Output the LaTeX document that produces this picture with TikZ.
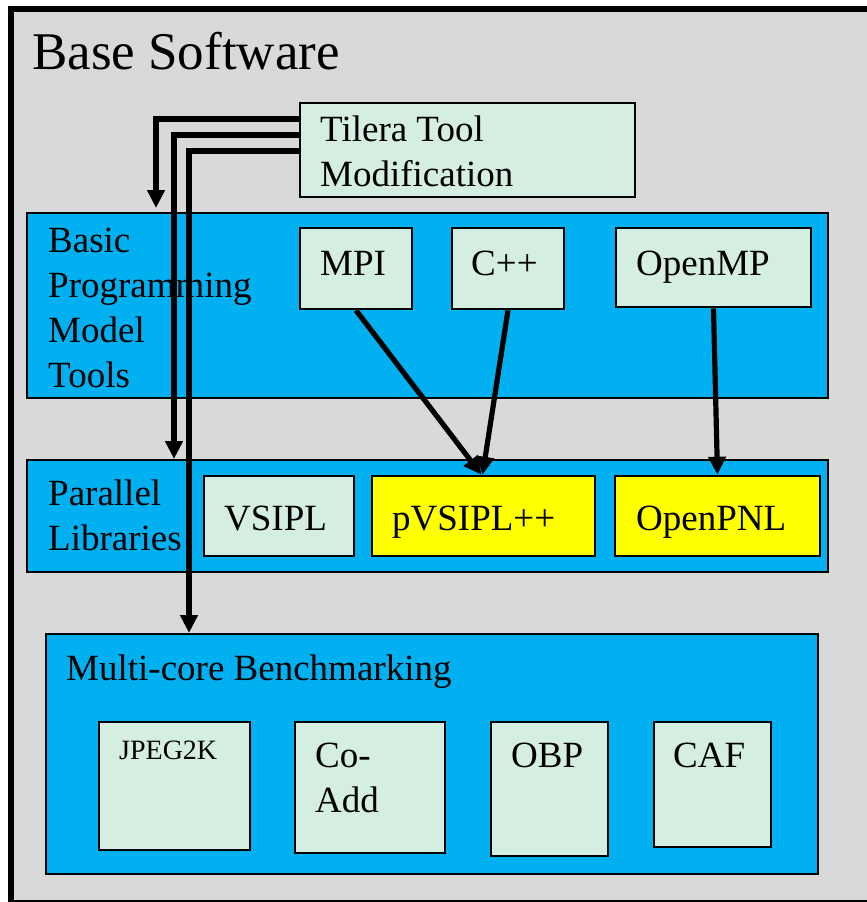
\documentclass[tikz,border=0pt]{standalone}
\usepackage{fontspec}
\setmainfont{Liberation Serif}
\usetikzlibrary{arrows.meta,fit}
\definecolor{panelgray}{HTML}{D9D9D9}
\definecolor{groupblue}{HTML}{00B0F0}
\definecolor{itemmint}{HTML}{D4EEE1}
\definecolor{hilite}{HTML}{FFFF00}
\begin{document}
\begin{tikzpicture}[x=1pt,y=-1pt,
  group/.style={draw=black, line width=2pt, fill=groupblue, inner sep=0pt},
  item/.style={draw=black, line width=2.6pt, fill=itemmint, inner sep=0pt},
  itemhi/.style={item, fill=hilite},
  % multi-line labels sit on the baseline of their last line
  txt/.style={font=\fontsize{37}{45}\selectfont, inner sep=0pt, anchor=base west, align=left},
  smalltxt/.style={txt, font=\fontsize{28}{34}\selectfont},
  arr/.style={line width=5.2pt, -{Triangle[length=18pt,width=17pt]}}]
\useasboundingbox (0,0) rectangle (867,902);

% outer panel
\fill[panelgray] (11,9) rectangle (880,903);
\draw[line width=6pt] (880,9) -- (11,9) -- (11,903) -- (880,903);
\node[anchor=base west, inner sep=0pt, font=\fontsize{53}{60}\selectfont] (title) at (32,69) {Base Software};

% tool box
\node[item, fit={(300,103) (635,197)}] (til) {};
\node[txt] (tilT) at (320,186) {Tilera Tool\\Modification};

% basic programming model tools
\node[group, fit={(27,213) (828,398)}] (bpm) {};
\node[txt] (bpmT) at (48,387) {Basic\\Programming\\Model\\Tools};
\node[item, fit={(300,228) (412,309)}] (mpi) {};
\node[txt] (mpiT) at (320,275) {MPI};
\node[item, fit={(452,228) (564,309)}] (cpp) {};
\node[txt] (cppT) at (471,275) {C++};
\node[item, fit={(616,228) (811,307)}] (omp) {};
\node[txt] (ompT) at (636,275) {OpenMP};

% parallel libraries
\node[group, fit={(27,460) (828,572)}] (par) {};
\node[txt] (parT) at (48,550) {Parallel\\Libraries};
\node[item, fit={(204,476) (354,556)}] (vsipl) {};
\node[txt] (vsiplT) at (224,530) {VSIPL};
\node[itemhi, fit={(372,476) (595,556)}] (pv) {};
\node[txt] (pvT) at (392,530) {pVSIPL++};
\node[itemhi, fit={(615,476) (820,556)}] (pnl) {};
\node[txt] (pnlT) at (636,530) {OpenPNL};

% benchmarking
\node[group, fit={(46,634) (818,874)}] (mcb) {};
\node[txt] (mcbT) at (66,680) {Multi-core Benchmarking};
\node[item, fit={(99,722) (250,850)}] (jpeg) {};
\node[smalltxt] (jpegT) at (119,759) {JPEG2K};
\node[item, fit={(295,722) (445,853)}] (coadd) {};
\node[txt] (coaddT) at (315,812) {Co-\\Add};
\node[item, fit={(491,722) (608,856)}] (obp) {};
\node[txt] (obpT) at (511,767) {OBP};
\node[item, fit={(654,722) (771,847)}] (caf) {};
\node[txt] (cafT) at (673,767) {CAF};

% connectors
\draw[arr] ([yshift=31pt]til.west) -| ([xshift=130pt,yshift=4pt]bpm.north west);
\draw[arr] ([yshift=15pt]til.west) -| ([xshift=148pt]par.north west);
\draw[arr] ([yshift=-1pt]til.west) -| ([xshift=144pt]mcb.north west);
\draw[arr] (mpi.south) -- ([xshift=-2pt]pv.north);
\draw[arr] (cpp.south) -- ([xshift=-1pt]pv.north);
\draw[arr] (omp.south) -- (pnl.north);
\end{tikzpicture}
\end{document}
